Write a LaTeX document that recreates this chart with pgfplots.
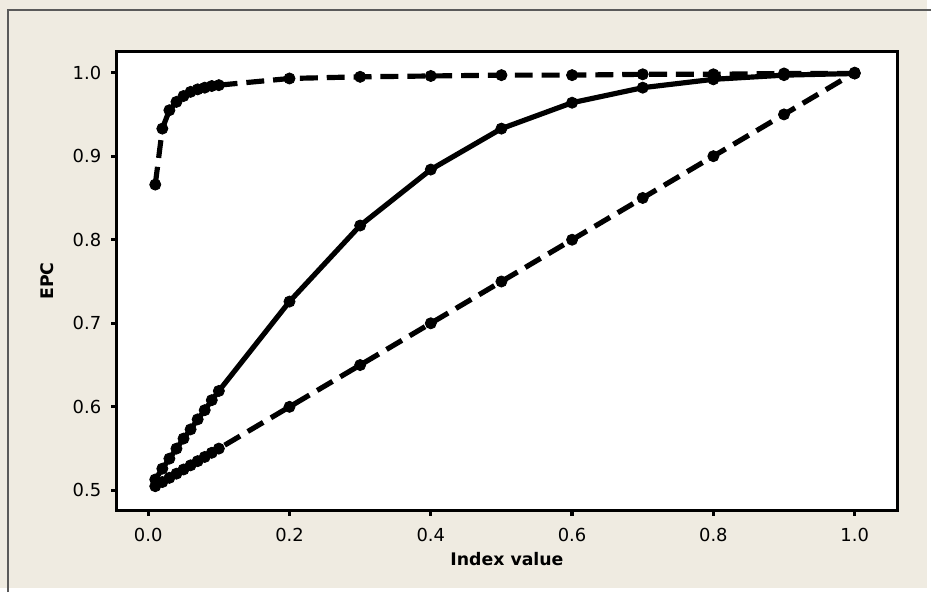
\documentclass[border=0pt]{standalone}
\usepackage{pgfplots}
\pgfplotsset{compat=1.18}
\usepackage{fontspec}
\setmainfont{DejaVu Sans}
\definecolor{bg}{RGB}{239,235,225}
\definecolor{frame}{RGB}{90,90,90}
\begin{document}
\begin{tikzpicture}
\fill[bg] (0,0) rectangle (466pt,295.5pt);
\draw[frame, line width=0.7pt] (4pt,-2pt) -- (4pt,290.5pt) -- (468pt,290.5pt);
\useasboundingbox (0,0) rectangle (466pt,295.5pt);
\begin{axis}[
  at={(58.5pt,39pt)}, anchor=south west,
  scale only axis, width=392.5pt, height=230.5pt,
  xmin=-0.045, xmax=1.0606, ymin=0.476, ymax=1.025,
  axis background/.style={fill=white},
  axis line style={line width=1.75pt, black},
  xtick={0,0.2,0.4,0.6,0.8,1.0},
  ytick={0.5,0.6,0.7,0.8,0.9,1.0},
  xtick pos=bottom, ytick pos=left,
  tick align=outside, major tick length=2.6pt,
  tick style={line width=1.6pt, black},
  /pgf/number format/assume math mode=true,
  /pgf/number format/.cd, fixed, fixed zerofill, precision=1, /pgfplots/.cd,
  tick label style={font=\fontsize{9}{10}\selectfont},
  xticklabel style={yshift=-3pt},
  yticklabel style={xshift=-1.5pt},
  xlabel={Index value}, ylabel={EPC},
  label style={font=\fontsize{8.7}{10}\selectfont\bfseries},
  xlabel style={at={(rel axis cs:0.5,0)}, anchor=center, yshift=-24.5pt},
  ylabel style={at={(axis description cs:-0.0892,0.5)}, anchor=center},
]
\addplot[black, line width=2.6pt, dash pattern=on 9pt off 4.5pt, mark=*, mark size=2.8pt, mark options={solid, line width=0.4pt}] coordinates {
(0.01,0.866) (0.02,0.933) (0.03,0.955) (0.04,0.965) (0.05,0.972) (0.06,0.977) (0.07,0.980) (0.08,0.982) (0.09,0.984) (0.10,0.985)
(0.2,0.993) (0.3,0.995) (0.4,0.996) (0.5,0.997) (0.6,0.997) (0.7,0.998) (0.8,0.998) (0.9,0.999) (1.0,0.999)};
\addplot[black, line width=2.6pt, mark=*, mark size=2.8pt, mark options={solid, line width=0.4pt}] coordinates {
(0.01,0.513) (0.02,0.526) (0.03,0.538) (0.04,0.550) (0.05,0.562) (0.06,0.573) (0.07,0.585) (0.08,0.596) (0.09,0.608) (0.10,0.619)
(0.2,0.726) (0.3,0.817) (0.4,0.884) (0.5,0.933) (0.6,0.964) (0.7,0.982) (0.8,0.992) (0.9,0.997) (1.0,0.999)};
\addplot[black, line width=2.6pt, dash pattern=on 9pt off 4.5pt, mark=*, mark size=2.8pt, mark options={solid, line width=0.4pt}] coordinates {
(0.01,0.505) (0.02,0.510) (0.03,0.515) (0.04,0.520) (0.05,0.525) (0.06,0.530) (0.07,0.535) (0.08,0.540) (0.09,0.545) (0.10,0.550)
(0.2,0.600) (0.3,0.650) (0.4,0.700) (0.5,0.750) (0.6,0.800) (0.7,0.850) (0.8,0.900) (0.9,0.950) (1.0,1.000)};
\end{axis}
\end{tikzpicture}
\end{document}
